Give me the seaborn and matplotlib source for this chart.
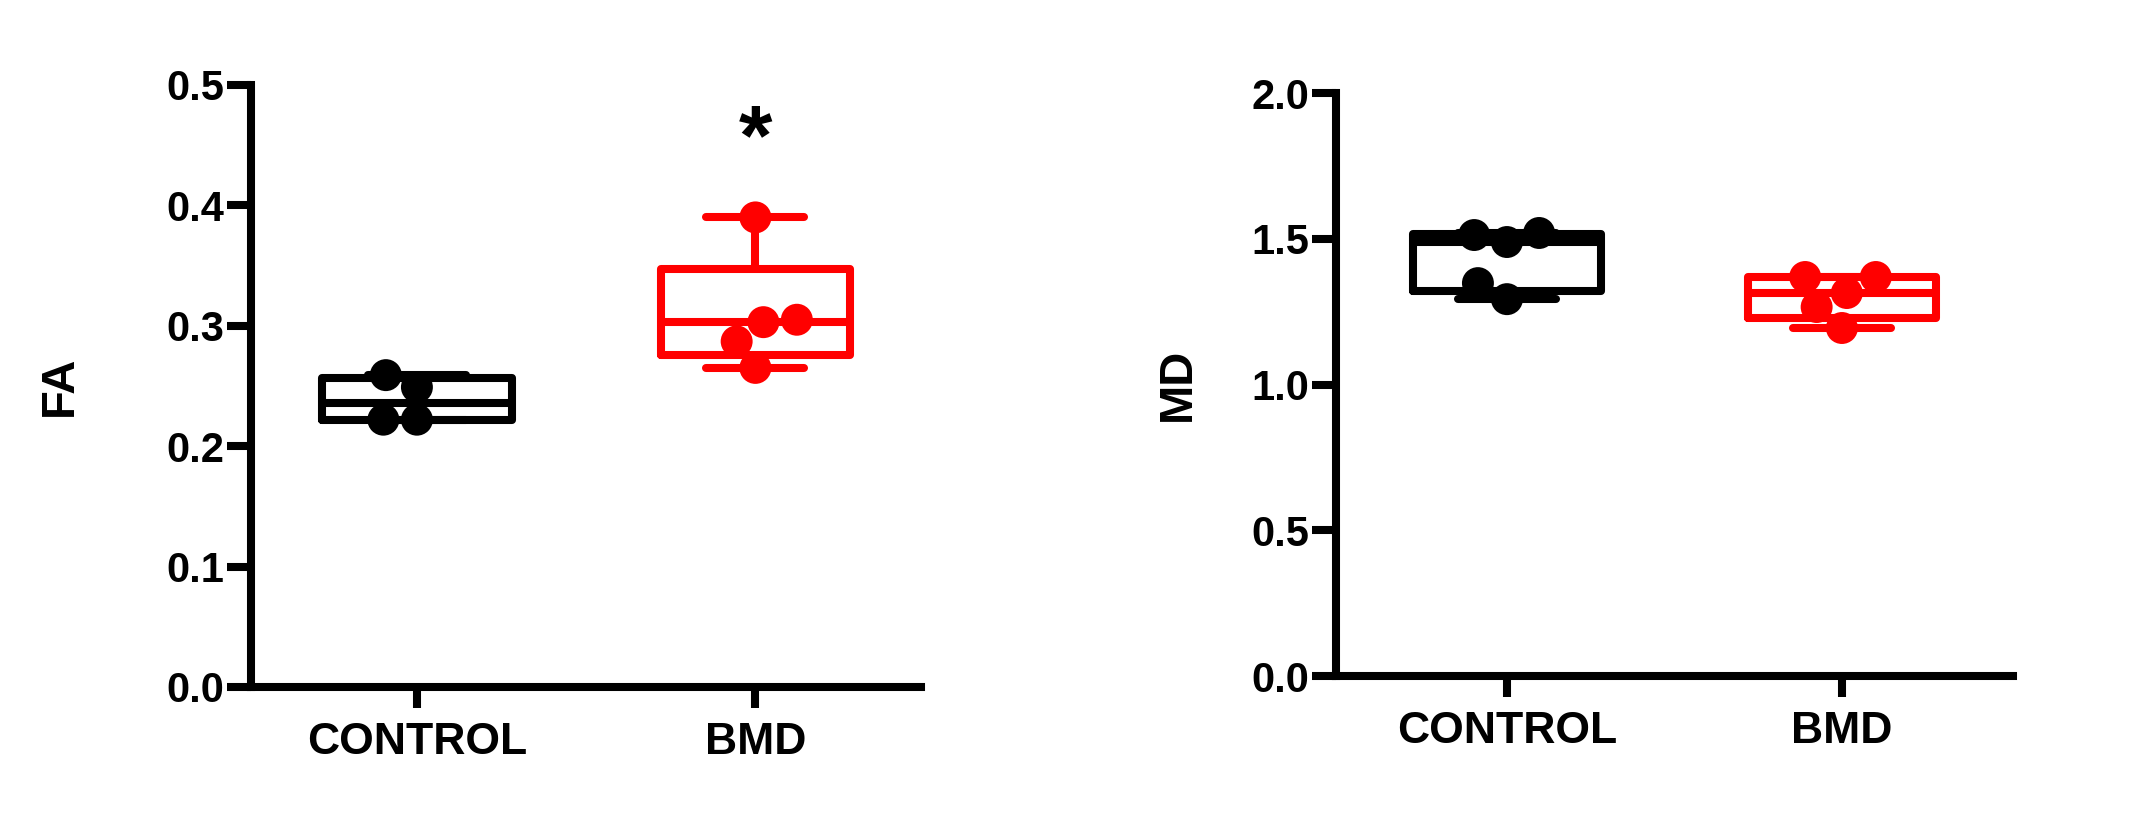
import numpy as np
import pandas as pd
import matplotlib
matplotlib.use("Agg")
import matplotlib.pyplot as plt
import seaborn as sns

# groups and colours
groups = ["CONTROL", "BMD"]
colors = ["black", "#ff0000"]

# values
fa_control = [0.249, 0.259, 0.222, 0.222]
fa_bmd = [0.390, 0.305, 0.303, 0.287, 0.265]
md_control = [1.513, 1.489, 1.520, 1.348, 1.293]
md_bmd = [1.314, 1.369, 1.369, 1.266, 1.194]

fa_ticks = [0.0, 0.1, 0.2, 0.3, 0.4, 0.5]
md_ticks = [0.0, 0.5, 1.0, 1.5, 2.0]

sns.set_style("ticks")
plt.rcParams["font.family"] = ["Liberation Sans", "DejaVu Sans"]
plt.rcParams["font.weight"] = "bold"
plt.rcParams["text.color"] = "black"
plt.rcParams["axes.labelcolor"] = "black"
plt.rcParams["axes.edgecolor"] = "black"
plt.rcParams["xtick.color"] = "black"
plt.rcParams["ytick.color"] = "black"

LW = 5.8
palette = dict(zip(groups, colors))


def long_df(name, ctrl, bmd):
    return pd.DataFrame({"group": ["CONTROL"] * len(ctrl) + ["BMD"] * len(bmd),
                         name: ctrl + bmd})


def panel(ax, df, col, ticks, xlim):
    # boxes: min-max whiskers, quartiles like GraphPad (weibull)
    for i, g in enumerate(groups):
        vals = df.loc[df["group"] == g, col].to_numpy()
        q1, med, q3 = np.percentile(vals, [25, 50, 75], method="weibull")
        stats = [dict(med=med, q1=q1, q3=q3, whislo=vals.min(), whishi=vals.max(), fliers=[])]
        c = palette[g]
        lp = dict(color=c, lw=LW, solid_capstyle="round", solid_joinstyle="round")
        ax.bxp(stats, positions=[i], widths=0.56, capwidths=0.29, showfliers=False,
               boxprops=lp, medianprops=lp, whiskerprops=lp, capprops=lp,
               manage_ticks=False)
    sns.swarmplot(data=df, x="group", y=col, hue="group", order=groups,
                  palette=palette, size=23, legend=False, ax=ax, zorder=3)

    ax.set_xlim(*xlim)
    ax.set_ylim(ticks[0], ticks[-1])
    ax.set_yticks(ticks)
    ax.set_yticklabels([f"{t:.1f}" for t in ticks], fontsize=30, fontweight="bold")
    ax.set_xticks(range(len(groups)))
    ax.set_xticklabels(groups, fontsize=32, fontweight="bold")
    ax.set_xlabel("")
    ax.set_ylabel(col, fontsize=34, fontweight="bold", color="black")
    sns.despine(ax=ax)
    for s in ["left", "bottom"]:
        ax.spines[s].set_linewidth(LW)
        ax.spines[s].set_color("black")
        ax.spines[s].set_capstyle("projecting")
    ax.tick_params(axis="y", length=17, width=LW, pad=2, colors="black")
    ax.tick_params(axis="x", length=15, width=LW, pad=10, colors="black")


fig = plt.figure(figsize=(21.55, 8.13), dpi=100)
ax1 = fig.add_axes([0.1165, 0.155, 0.311, 0.7405])
ax2 = fig.add_axes([0.620, 0.1685, 0.314, 0.717])

panel(ax1, long_df("FA", fa_control, fa_bmd), "FA", fa_ticks, (-0.49, 1.49))
panel(ax2, long_df("MD", md_control, md_bmd), "MD", md_ticks, (-0.51, 1.51))

ax1.yaxis.set_label_coords(-0.252, 0.5)
ax2.yaxis.set_label_coords(-0.201, 0.5)

# significance mark over BMD
ax1.text(1, 0.434, "*", fontsize=62, fontweight="bold", ha="center", va="baseline",
         color="black")

fig.savefig("out.png", dpi=100)
